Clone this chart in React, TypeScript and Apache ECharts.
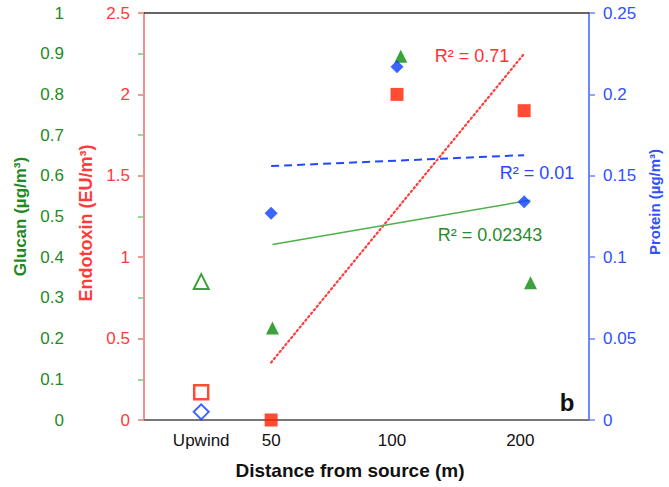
import React, { useEffect, useRef } from "react";
import * as echarts from "echarts";

// ---- data ----
const categories = ["Upwind", "50", "100", "200"];
const labelPositions = [0.45, 1, 1.95, 2.96];

const glucanX = [0.45, 1.01, 2.02, 3.04];
const glucan = [0.34, 0.226, 0.894, 0.337];

const endotoxinX = [0.45, 1, 1.99, 2.99];
const endotoxin = [0.17, 0, 2.0, 1.9];

const proteinX = [0.45, 1, 1.99, 2.99];
const protein = [0.005, 0.127, 0.217, 0.134];

const r2Labels = ["R² = 0.71", "R² = 0.01", "R² = 0.02343"];
const panelLabel = "b";

const FONT = '"Liberation Sans", Arial, Helvetica, sans-serif';

const GREEN_TXT = "#1f8a1f";
const GREEN_AX = "#7acb7a";
const GREEN_MK = "#0a8a0a";
const RED_TXT = "#ff3a3a";
const RED_AX = "#ff8c8c";
const RED_MK = "#ff2000";
const BLUE_TXT = "#3150ff";
const BLUE_AX = "#6f86ff";
const BLUE_MK = "#0a3cff";

function fit(xs: number[], ys: number[]): number[][] {
  const n = xs.length;
  const mx = xs.reduce((a, b) => a + b, 0) / n;
  const my = ys.reduce((a, b) => a + b, 0) / n;
  let sxy = 0;
  let sxx = 0;
  for (let i = 0; i < n; i++) {
    sxy += (xs[i] - mx) * (ys[i] - my);
    sxx += (xs[i] - mx) * (xs[i] - mx);
  }
  const slope = sxy / sxx;
  const b = my - slope * mx;
  const x0 = Math.min(...xs);
  const x1 = Math.max(...xs);
  return [
    [x0, b + slope * x0],
    [x1, b + slope * x1],
  ];
}

function pairs(xs: number[], ys: number[]) {
  return xs.map((x, i) => [x, ys[i]]);
}

export default function App() {
  const ref = useRef<HTMLDivElement>(null);

  useEffect(() => {
    if (!ref.current) return;
    const chart = echarts.init(ref.current, undefined, { renderer: "svg" });

    const yAxisBase = (color: string, axColor: string) => ({
      type: "value" as const,
      splitLine: { show: false },
      axisLine: { show: true, lineStyle: { color: axColor, width: 2 } },
      axisTick: { show: true, length: 6, lineStyle: { color: axColor, width: 1.5 } },
      axisLabel: { color, fontSize: 17, fontFamily: FONT, margin: 14 },
      nameLocation: "middle" as const,
      nameRotate: 90,
    });

    const option: any = {
      animation: false,
      backgroundColor: "#ffffff",
      grid: {
        left: 144,
        right: 80,
        top: 13,
        bottom: 67,
        containLabel: false,
        outerBoundsMode: "none",
      },
      xAxis: [
        {
          type: "value",
          min: 0,
          max: 3.5,
          position: "bottom",
          splitLine: { show: false },
          axisLine: { show: true, onZero: false, lineStyle: { color: "#777777", width: 2 } },
          axisTick: { show: false },
          axisLabel: {
            customValues: labelPositions,
            formatter: (v: number) => {
              let best = 0;
              for (let i = 0; i < labelPositions.length; i++) {
                if (Math.abs(labelPositions[i] - v) < Math.abs(labelPositions[best] - v)) best = i;
              }
              return categories[best];
            },
            color: "#111111",
            fontSize: 17,
            fontFamily: FONT,
            margin: 12,
          },
          name: "Distance from source (m)",
          nameLocation: "middle",
          nameGap: 41,
          nameTextStyle: {
            color: "#111111",
            fontSize: 19,
            fontWeight: "bold",
            fontFamily: FONT,
            padding: [0, 33, 0, 0],
          },
        },
        {
          type: "value",
          min: 0,
          max: 3.5,
          position: "top",
          splitLine: { show: false },
          axisLine: { show: true, onZero: false, lineStyle: { color: "#333333", width: 1.5 } },
          axisTick: { show: false },
          axisLabel: { show: false },
        },
      ],
      yAxis: [
        {
          ...yAxisBase(GREEN_TXT, GREEN_AX),
          min: 0,
          max: 1,
          interval: 0.1,
          position: "left",
          offset: 66,
          name: "Glucan (µg/m³)",
          nameGap: 47,
          nameTextStyle: { color: GREEN_TXT, fontSize: 17, fontWeight: "bold", fontFamily: FONT },
        },
        {
          ...yAxisBase(RED_TXT, RED_AX),
          min: 0,
          max: 2.5,
          interval: 0.5,
          position: "left",
          offset: 0,
          name: "Endotoxin (EU/m³)",
          nameGap: 39,
          nameTextStyle: {
            color: RED_TXT,
            fontSize: 18,
            fontWeight: "bold",
            fontFamily: FONT,
            padding: [0, 13, 0, 0],
          },
        },
        {
          ...yAxisBase(BLUE_TXT, BLUE_AX),
          min: 0,
          max: 0.25,
          interval: 0.05,
          position: "right",
          offset: 0,
          name: "Protein (µg/m³)",
          nameGap: 56,
          nameTextStyle: {
            color: BLUE_TXT,
            fontSize: 15,
            fontWeight: "bold",
            fontFamily: FONT,
            padding: [0, 0, 0, 29],
          },
        },
      ],
      series: [
        {
          type: "line",
          yAxisIndex: 1,
          data: fit(endotoxinX.slice(1), endotoxin.slice(1)),
          symbol: "none",
          lineStyle: { color: "#ff3b3b", width: 2.2, type: [1.5, 3], cap: "round" },
          z: 2,
        },
        {
          type: "line",
          yAxisIndex: 2,
          data: fit(proteinX.slice(1), protein.slice(1)),
          symbol: "none",
          lineStyle: { color: "#2448ff", width: 2, type: [8, 5] },
          z: 2,
        },
        {
          type: "line",
          yAxisIndex: 0,
          data: fit(glucanX.slice(1), glucan.slice(1)),
          symbol: "none",
          lineStyle: { color: "#4cb04c", width: 1.5 },
          z: 2,
        },
        {
          type: "scatter",
          yAxisIndex: 0,
          clip: false,
          data: pairs(glucanX.slice(0, 1), glucan.slice(0, 1)),
          symbol: "triangle",
          symbolSize: 15,
          itemStyle: { color: "#ffffff", borderColor: GREEN_MK, borderWidth: 2 },
          z: 3,
        },
        {
          type: "scatter",
          yAxisIndex: 0,
          clip: false,
          data: pairs(glucanX.slice(1), glucan.slice(1)),
          symbol: "triangle",
          symbolSize: 13,
          itemStyle: { color: GREEN_MK },
          z: 3,
        },
        {
          type: "scatter",
          yAxisIndex: 1,
          clip: false,
          data: pairs(endotoxinX.slice(0, 1), endotoxin.slice(0, 1)),
          symbol: "rect",
          symbolSize: 14,
          itemStyle: { color: "#ffffff", borderColor: RED_MK, borderWidth: 2.5 },
          z: 3,
        },
        {
          type: "scatter",
          yAxisIndex: 1,
          clip: false,
          data: pairs(endotoxinX.slice(1), endotoxin.slice(1)),
          symbol: "rect",
          symbolSize: 13,
          itemStyle: { color: RED_MK },
          z: 3,
        },
        {
          type: "scatter",
          yAxisIndex: 2,
          clip: false,
          data: pairs(proteinX.slice(0, 1), protein.slice(0, 1)),
          symbol: "diamond",
          symbolSize: 15,
          itemStyle: { color: "#ffffff", borderColor: BLUE_MK, borderWidth: 2 },
          z: 3,
        },
        {
          type: "scatter",
          yAxisIndex: 2,
          clip: false,
          data: pairs(proteinX.slice(1), protein.slice(1)),
          symbol: "diamond",
          symbolSize: 13,
          itemStyle: { color: BLUE_MK },
          z: 3,
        },
      ],
      graphic: [
        {
          type: "text",
          x: 472,
          y: 56,
          style: {
            text: r2Labels[0],
            fill: "#ff3030",
            font: `18px ${FONT}`,
            align: "center",
            verticalAlign: "middle",
            textAlign: "center",
            textVerticalAlign: "middle",
          },
        },
        {
          type: "text",
          x: 537,
          y: 173,
          style: {
            text: r2Labels[1],
            fill: "#2a48ff",
            font: `18px ${FONT}`,
            align: "center",
            verticalAlign: "middle",
            textAlign: "center",
            textVerticalAlign: "middle",
          },
        },
        {
          type: "text",
          x: 490,
          y: 235,
          style: {
            text: r2Labels[2],
            fill: "#2a8a2a",
            font: `18px ${FONT}`,
            align: "center",
            verticalAlign: "middle",
            textAlign: "center",
            textVerticalAlign: "middle",
          },
        },
        {
          type: "text",
          x: 567,
          y: 402,
          style: {
            text: panelLabel,
            fill: "#111111",
            font: `bold 24px ${FONT}`,
            align: "center",
            verticalAlign: "middle",
            textAlign: "center",
            textVerticalAlign: "middle",
          },
        },
      ],
    };

    chart.setOption(option);
    return () => chart.dispose();
  }, []);

  return (
    <div
      ref={ref}
      style={{ position: "absolute", left: 0, top: 0, width: 669, height: 487 }}
    />
  );
}
